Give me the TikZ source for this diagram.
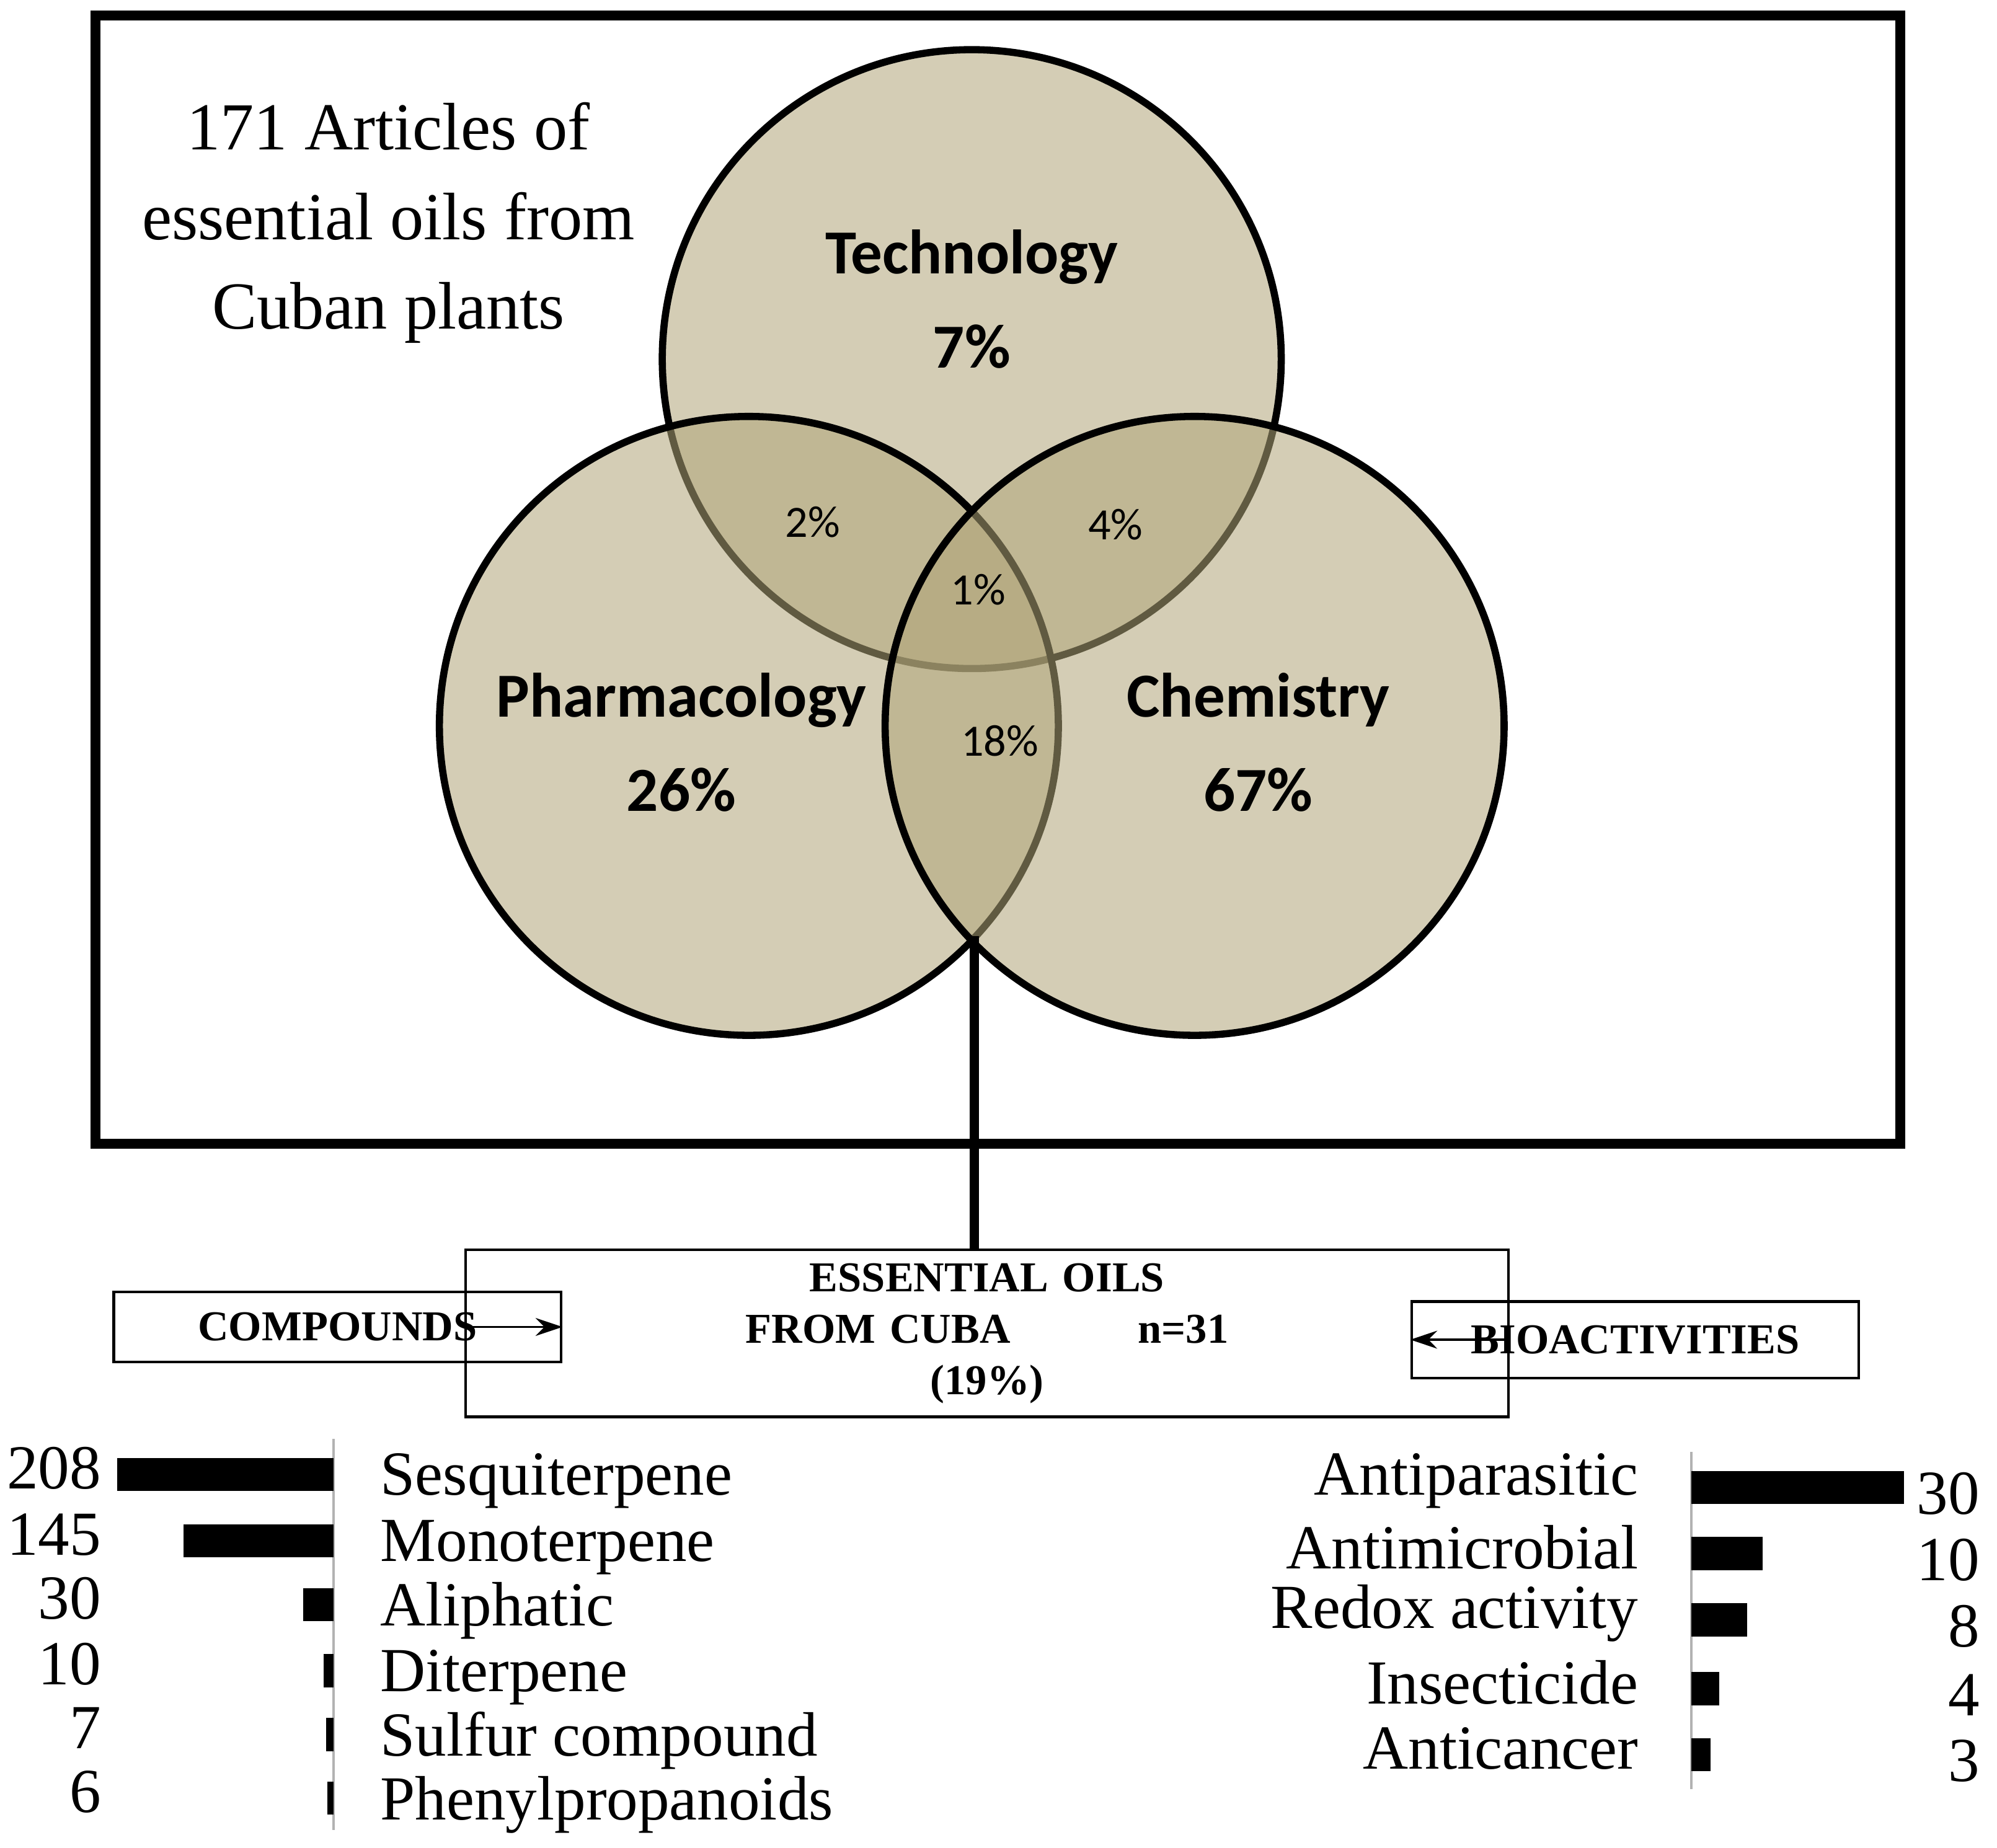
\documentclass[tikz,border=0pt]{standalone}
\usepackage{fontspec}
\setmainfont{Liberation Serif}
\newfontfamily\venn{Carlito}
\usetikzlibrary{arrows.meta}
\begin{document}
\begin{tikzpicture}[x=0.01cm,y=-0.01cm,
  circ/.style={draw=black,line width=1.6pt,fill={rgb,255:red,176;green,164;blue,120},fill opacity=0.55},
  vlab/.style={font=\venn\bfseries\fontsize{14}{17}\selectfont,align=center},
  small/.style={font=\venn\fontsize{10}{12}\selectfont},
  bx/.style={draw,line width=0.6pt,font=\bfseries\fontsize{9.5}{11.5}\selectfont,align=center,inner sep=0pt},
  bar/.style={fill=black,draw=none},
  num/.style={font=\fontsize{14}{16}\selectfont,anchor=east,inner sep=0pt},
  lab/.style={font=\fontsize{14}{16}\selectfont,inner sep=0pt},
  arr/.style={-{Stealth[length=6pt,width=4pt]},line width=0.5pt}]
\useasboundingbox (0,0) rectangle (1568,1451);
\draw[line width=2.2pt] (75,12) rectangle (1492,898);
\node[font=\fontsize{15}{20}\selectfont,align=center] (title) at (305,175) {171 Articles of\\essential oils from\\Cuban plants};
\draw[circ] (763,282) circle (243);
\draw[circ] (588,570) circle (243);
\draw[circ] (938,570) circle (243);
\node[vlab] (tech) at (763,235) {Technology\\[4pt]7\%};
\node[vlab] (phar) at (535,583) {Pharmacology\\[4pt]26\%};
\node[vlab] (chem) at (988,583) {Chemistry\\[4pt]67\%};
\node[small] (p2) at (638,410) {2\%};
\node[small] (p4) at (876,412) {4\%};
\node[small] (p1) at (768,463) {1\%};
\node[small] (p18) at (785,582) {18\%};
\coordinate (vtop) at (765,735);
\node[bx,minimum width=388\pgflinewidth,text width=3.8cm,minimum height=1.31cm] (eo) at (775,1047) {ESSENTIAL OILS\\FROM CUBA\hspace{3em}n=31\\(19\%)};
\draw[line width=2pt] (vtop) -- (eo.north -| vtop);
\node[bx,minimum width=3.51cm,minimum height=0.55cm] (comp) at (265,1042) {COMPOUNDS};
\node[bx,minimum width=3.51cm,minimum height=0.6cm] (bio) at (1284,1052) {BIOACTIVITIES};
\draw[arr] (eo.west |- comp) -- (comp.east);
\draw[arr] (eo.east |- bio) -- (bio.west);
% left bars
\draw[gray!60,line width=0.5pt] (262,1130) -- (262,1437);
\foreach \w/\v/\n/\y in {170/208/Sesquiterpene/1158,118/145/Monoterpene/1210,24/30/Aliphatic/1260,8/10/Diterpene/1312,6/7/Sulfur compound/1362,5/6/Phenylpropanoids/1412}{
  \fill[bar] (262-\w,\y-13) rectangle (262,\y+13);
  \node[num] at (80,\y-5) {\v};
  \node[lab,anchor=west] at (298,\y+5) {\n};
}
% right bars
\draw[gray!60,line width=0.5pt] (1328,1140) -- (1328,1405);
\foreach \w/\v/\n/\y in {167/30/Antiparasitic/1168,56/10/Antimicrobial/1220,44/8/Redox activity/1272,22/4/Insecticide/1326,15/3/Anticancer/1378}{
  \fill[bar] (1328,\y-13) rectangle (1328+\w,\y+13);
  \node[num] at (1555,\y+5) {\v};
  \node[lab,anchor=east] at (1287,\y-5) {\n};
}
\end{tikzpicture}
\end{document}
